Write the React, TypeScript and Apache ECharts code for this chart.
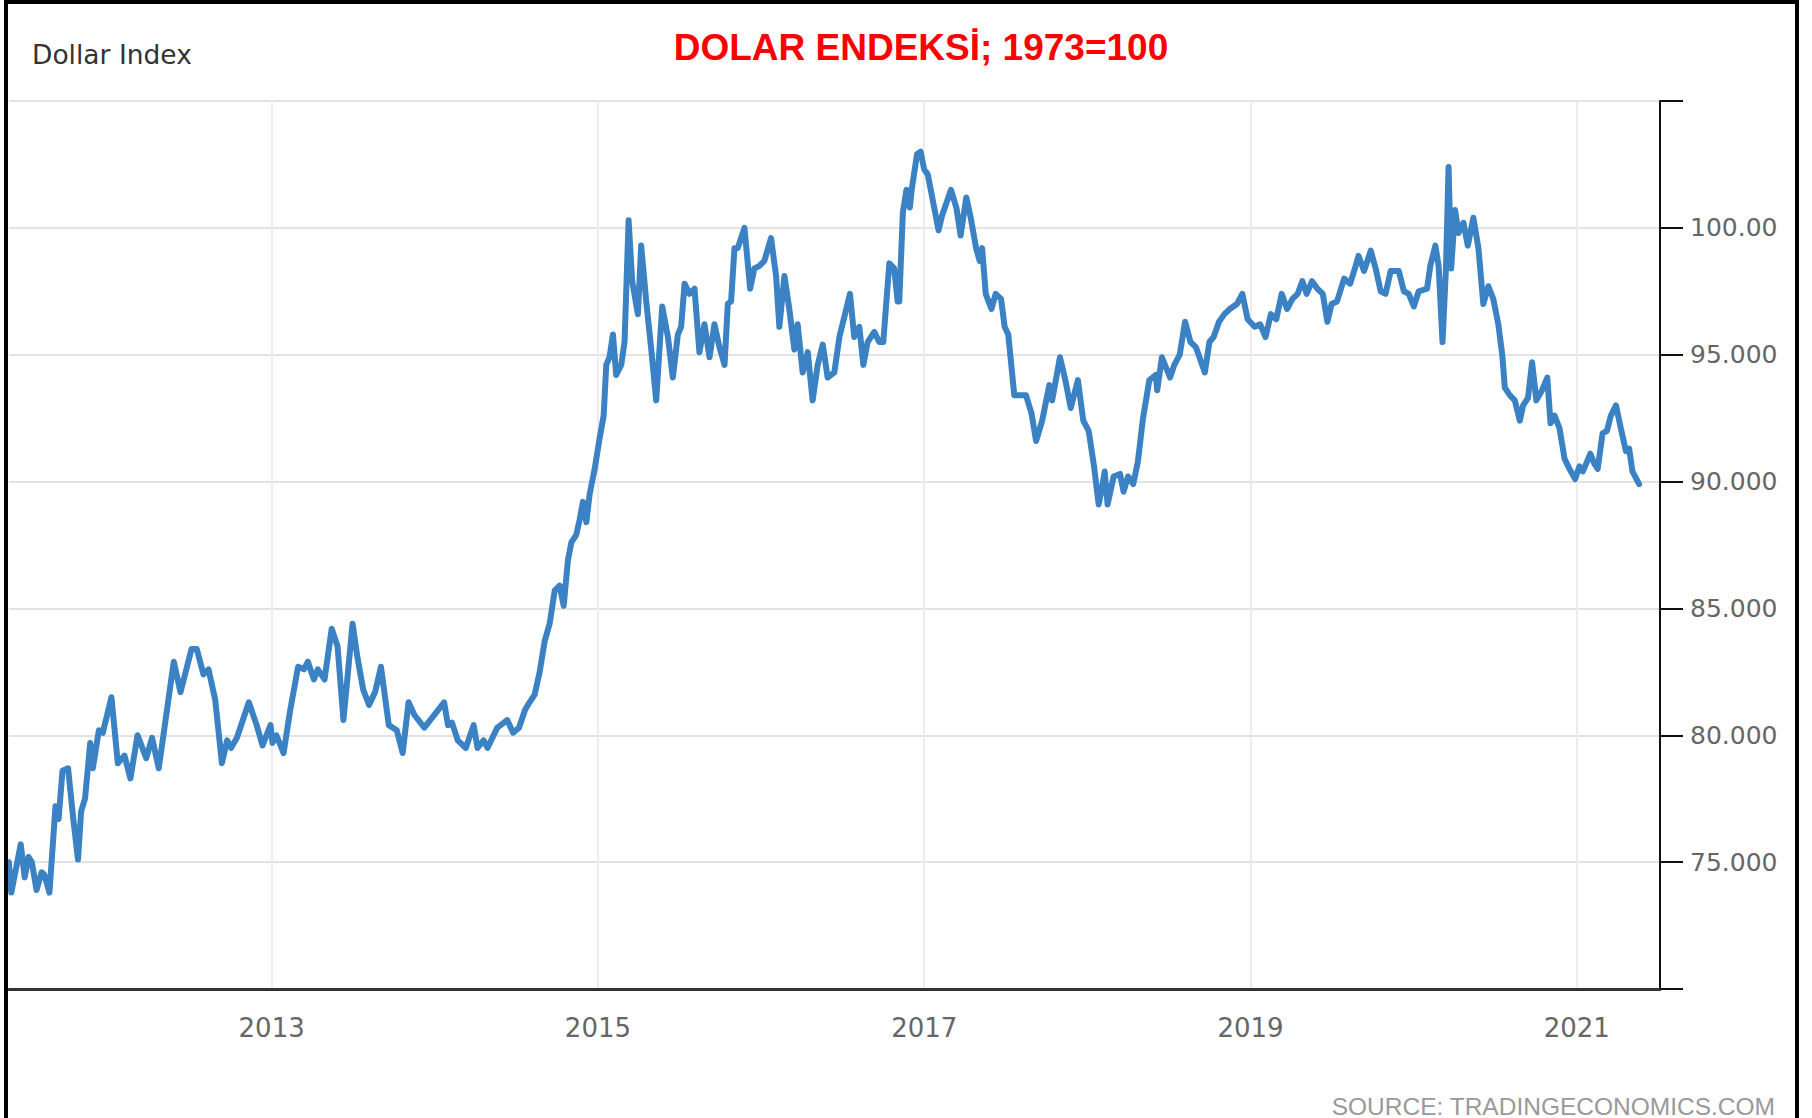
import React, { useEffect, useRef } from "react";
import * as echarts from "echarts";

// Decimal years (x) and index values (y)
const years: number[] = [
  2011.389, 2011.404, 2011.462, 2011.486, 2011.51, 2011.53, 2011.559, 2011.59, 2011.607, 2011.638,
  2011.675, 2011.694, 2011.718, 2011.752, 2011.784, 2011.813, 2011.832, 2011.856, 2011.888, 2011.904,
  2011.941, 2011.965, 2012.018, 2012.057, 2012.098, 2012.134, 2012.178, 2012.231, 2012.267, 2012.308,
  2012.4, 2012.441, 2012.509, 2012.541, 2012.582, 2012.613, 2012.654, 2012.695, 2012.727, 2012.751,
  2012.787, 2012.86, 2012.908, 2012.944, 2012.993, 2013.005, 2013.029, 2013.073, 2013.114, 2013.162,
  2013.198, 2013.222, 2013.259, 2013.283, 2013.324, 2013.368, 2013.404, 2013.44, 2013.496, 2013.525,
  2013.561, 2013.597, 2013.634, 2013.67, 2013.718, 2013.767, 2013.803, 2013.839, 2013.875, 2013.936,
  2013.972, 2014.021, 2014.057, 2014.081, 2014.105, 2014.141, 2014.19, 2014.238, 2014.262, 2014.299,
  2014.323, 2014.383, 2014.444, 2014.48, 2014.516, 2014.553,
  2014.571, 2014.612, 2014.643, 2014.673, 2014.704, 2014.735, 2014.765, 2014.79, 2014.816, 2014.837,
  2014.867, 2014.888, 2014.908, 2014.929, 2014.949, 2014.98, 2015.01, 2015.035, 2015.051, 2015.071,
  2015.092, 2015.112, 2015.143, 2015.163, 2015.188, 2015.21, 2015.245, 2015.265, 2015.296, 2015.327,
  2015.357, 2015.394, 2015.429, 2015.459, 2015.49, 2015.51, 2015.531, 2015.561, 2015.592, 2015.622,
  2015.653, 2015.684, 2015.714, 2015.745, 2015.776, 2015.796, 2015.816, 2015.837, 2015.857, 2015.898,
  2015.933, 2015.959, 2015.99, 2016.02, 2016.061, 2016.092, 2016.112, 2016.143, 2016.173, 2016.204,
  2016.224, 2016.255, 2016.286, 2016.316, 2016.347, 2016.378, 2016.408, 2016.449, 2016.48, 2016.545,
  2016.571, 2016.602, 2016.627, 2016.653, 2016.694, 2016.724, 2016.749, 2016.786, 2016.816, 2016.837,
  2016.847, 2016.869, 2016.891, 2016.912, 2016.923, 2016.956, 2016.978, 2017.0, 2017.022, 2017.055,
  2017.088, 2017.11, 2017.164, 2017.197, 2017.223, 2017.258, 2017.285, 2017.318, 2017.34, 2017.355,
  2017.377, 2017.412, 2017.438, 2017.471, 2017.493, 2017.515, 2017.552, 2017.591, 2017.624, 2017.657,
  2017.686, 2017.723, 2017.751, 2017.767, 2017.784, 2017.832, 2017.865, 2017.898, 2017.942, 2017.975,
  2018.008, 2018.041, 2018.069, 2018.091, 2018.106, 2018.124, 2018.161, 2018.2, 2018.222, 2018.249,
  2018.281, 2018.31, 2018.341, 2018.38, 2018.419, 2018.428, 2018.457, 2018.507, 2018.533, 2018.566,
  2018.599, 2018.632, 2018.665, 2018.72, 2018.748, 2018.774, 2018.807, 2018.84, 2018.873, 2018.917,
  2018.95, 2018.982, 2019.026, 2019.059, 2019.092, 2019.125, 2019.158, 2019.191, 2019.224, 2019.257,
  2019.289, 2019.318, 2019.344, 2019.377, 2019.41, 2019.443, 2019.471, 2019.497, 2019.53, 2019.574,
  2019.611, 2019.64, 2019.662,
  2019.696, 2019.737, 2019.767, 2019.798, 2019.828, 2019.859, 2019.909, 2019.94, 2019.97, 2020.001,
  2020.031, 2020.082, 2020.102, 2020.133, 2020.153, 2020.177, 2020.198, 2020.214, 2020.23, 2020.254,
  2020.275, 2020.305, 2020.332, 2020.366, 2020.397, 2020.427, 2020.458, 2020.488, 2020.519, 2020.543,
  2020.559, 2020.59, 2020.62, 2020.651, 2020.671, 2020.701, 2020.726, 2020.752, 2020.787, 2020.819,
  2020.839, 2020.864, 2020.894, 2020.925, 2020.955, 2020.99, 2021.016, 2021.037, 2021.057, 2021.083,
  2021.108, 2021.128, 2021.158, 2021.185, 2021.209, 2021.24, 2021.27, 2021.301, 2021.321, 2021.341,
  2021.382,
];

const values: number[] = [
  75.0, 73.8, 75.7, 74.4, 75.2, 75.0, 73.9, 74.6, 74.5, 73.8,
  77.2, 76.7, 78.6, 78.7, 76.7, 75.1, 77.0, 77.5, 79.7, 78.7,
  80.2, 80.1, 81.5, 78.9, 79.2, 78.3, 80.0, 79.1, 79.9, 78.7,
  82.9, 81.7, 83.4, 83.4, 82.4, 82.6, 81.4, 78.9, 79.8, 79.5,
  79.9, 81.3, 80.4, 79.6, 80.4, 79.7, 80.0, 79.3, 81.0, 82.7,
  82.6, 82.9, 82.2, 82.6, 82.2, 84.2, 83.5, 80.6, 84.4, 83.1,
  81.8, 81.2, 81.7, 82.7, 80.4, 80.2, 79.3, 81.3, 80.8, 80.3,
  80.6, 81.0, 81.3, 80.4, 80.5, 79.8, 79.5, 80.4, 79.5, 79.8,
  79.5, 80.3, 80.6, 80.1, 80.3, 81.0,
  81.2, 81.6, 82.5, 83.7, 84.4, 85.7, 85.9, 85.1, 86.9, 87.6,
  87.9, 88.5, 89.2, 88.4, 89.5, 90.5, 91.7, 92.6, 94.6, 94.9,
  95.8, 94.2, 94.6, 95.5, 100.3, 97.9, 96.6, 99.3, 97.1, 95.2,
  93.2, 96.9, 95.7, 94.1, 95.8, 96.1, 97.8, 97.4, 97.6, 95.1,
  96.2, 94.9, 96.2, 95.3, 94.6, 97.0, 97.1, 99.2, 99.2, 100.0,
  97.6, 98.4, 98.5, 98.7, 99.6, 98.1, 96.1, 98.1, 96.8, 95.2,
  96.2, 94.3, 95.1, 93.2, 94.6, 95.4, 94.1, 94.3, 95.7, 97.4,
  95.7, 96.1, 94.6, 95.5, 95.9, 95.5, 95.5, 98.6, 98.4, 97.1,
  97.1, 100.6, 101.5, 100.8, 101.5, 102.9, 103.0, 102.3, 102.1, 101.0,
  99.9, 100.5, 101.5, 100.8, 99.7, 101.2, 100.4, 99.2, 98.7, 99.2,
  97.4, 96.8, 97.4, 97.2, 96.1, 95.8, 93.4, 93.4, 93.4, 92.7,
  91.6, 92.4, 93.3, 93.8, 93.2, 94.9, 94.0, 92.9, 94.0, 92.4,
  92.0, 90.6, 89.1, 89.8, 90.4, 89.1, 90.2, 90.3, 89.6, 90.2,
  89.9, 90.8, 92.5, 94.0, 94.2, 93.6, 94.9, 94.1, 94.6, 95.0,
  96.3, 95.5, 95.3, 94.3, 95.5, 95.7, 96.3, 96.6, 96.8, 97.0,
  97.4, 96.4, 96.1, 96.2, 95.7, 96.6, 96.4, 97.4, 96.8, 97.2,
  97.4, 97.9, 97.4, 97.9, 97.6, 97.4, 96.3, 97.0, 97.1, 98.0,
  97.8, 98.4, 98.9,
  98.3, 99.1, 98.4, 97.5, 97.4, 98.3, 98.3, 97.5, 97.4, 96.9,
  97.5, 97.6, 98.5, 99.3, 98.5, 95.5, 98.4, 102.4, 98.4, 100.7,
  99.8, 100.2, 99.3, 100.4, 99.2, 97.0, 97.7, 97.2, 96.2, 95.0,
  93.7, 93.4, 93.2, 92.4, 93.0, 93.3, 94.7, 93.2, 93.6, 94.1,
  92.3, 92.6, 92.1, 90.9, 90.5, 90.1, 90.6, 90.4, 90.7, 91.1,
  90.7, 90.5, 91.9, 92.0, 92.6, 93.0, 92.1, 91.2, 91.3, 90.4,
  89.9,
];

const xLabelYears: number[] = [2013, 2015, 2017, 2019, 2021];
const yLabelText: Record<number, string> = {
  75: "75.000",
  80: "80.000",
  85: "85.000",
  90: "90.000",
  95: "95.000",
  100: "100.00",
};
const titleText = "DOLAR ENDEKSİ; 1973=100";
const seriesName = "Dollar Index";
const sourceText = "SOURCE: TRADINGECONOMICS.COM";

export default function App() {
  const ref = useRef<HTMLDivElement>(null);

  useEffect(() => {
    if (!ref.current) return;
    const chart = echarts.init(ref.current, null, { renderer: "svg" });
    chart.setOption({
      animation: false,
      backgroundColor: "#ffffff",
      grid: { left: 9, right: 152, top: 101, bottom: 129, containLabel: false },
      xAxis: {
        type: "value",
        min: 2011.39,
        max: 2021.51,
        axisLine: { show: true, onZero: false, lineStyle: { color: "#333333", width: 3 } },
        axisTick: { show: false, customValues: xLabelYears },
        axisLabel: {
          customValues: xLabelYears,
          formatter: (v: number) => String(Math.round(v)),
          color: "#666666",
          fontSize: 26,
          fontFamily: "DejaVu Sans",
          margin: 26,
        },
        splitLine: { show: true, lineStyle: { color: "#ececec", width: 2 } },
      },
      yAxis: {
        type: "value",
        position: "right",
        min: 70,
        max: 105,
        interval: 5,
        axisLine: { show: true, onZero: false, lineStyle: { color: "#111111", width: 2 } },
        axisTick: { show: true, length: 23, lineStyle: { color: "#111111", width: 2 } },
        axisLabel: {
          formatter: (v: number) => yLabelText[v] ?? "",
          color: "#666666",
          fontSize: 25,
          fontFamily: "DejaVu Sans",
          margin: 30,
        },
        splitLine: { show: true, lineStyle: { color: "#e3e3e3", width: 2 } },
      },
      series: [
        {
          type: "line",
          name: seriesName,
          data: years.map((x, i) => [x, values[i]]),
          showSymbol: false,
          symbol: "none",
          lineStyle: { color: "#3b82c4", width: 6, join: "round", cap: "round" },
          z: 3,
        },
      ],
      graphic: [
        {
          type: "rect",
          silent: true,
          z: 100,
          shape: { x: 6, y: 2, width: 1791, height: 1200 },
          style: { fill: "none", stroke: "#000000", lineWidth: 4 },
        },
        {
          type: "text",
          x: 921,
          y: 47,
          style: {
            text: titleText,
            fill: "#ff0000",
            fontSize: 37,
            fontWeight: "bold",
            fontFamily: "Liberation Sans, Arial, sans-serif",
            align: "center",
            verticalAlign: "middle",
            textAlign: "center",
            textVerticalAlign: "middle",
          },
        },
        {
          type: "text",
          x: 32,
          y: 54,
          style: {
            text: seriesName,
            fill: "#333333",
            fontSize: 26.5,
            fontFamily: "DejaVu Sans",
            align: "left",
            verticalAlign: "middle",
            textAlign: "left",
            textVerticalAlign: "middle",
          },
        },
        {
          type: "text",
          x: 1775,
          y: 1106,
          style: {
            text: sourceText,
            fill: "#999999",
            fontSize: 24.5,
            fontFamily: "Liberation Sans, Arial, sans-serif",
            align: "right",
            verticalAlign: "middle",
            textAlign: "right",
            textVerticalAlign: "middle",
          },
        },
      ],
    });
    return () => chart.dispose();
  }, []);

  return (
    <div
      ref={ref}
      style={{ position: "absolute", left: 0, top: 0, width: 1812, height: 1118 }}
    />
  );
}
